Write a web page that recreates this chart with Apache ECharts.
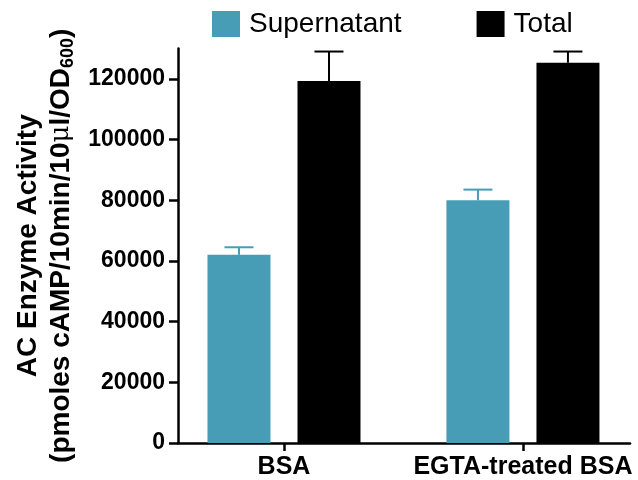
<!DOCTYPE html>
<html>
<head>
<meta charset="utf-8">
<script src="https://cdn.jsdelivr.net/npm/echarts@6/dist/echarts.min.js"></script>
<style>
  html, body { margin: 0; padding: 0; background: #fff; }
  #chart { width: 638px; height: 480px; }
</style>
</head>
<body>
<div id="chart"></div>
<script>
// Adenylate cyclase activity in supernatant vs total fractions
const categories = ['BSA', 'EGTA-treated BSA'];
const seriesNames = ['Supernatant', 'Total'];
const supernatantMean = [62000, 80000];
const supernatantUpper = [64500, 83500];
const totalMean = [119300, 125300];
const totalUpper = [129000, 129000];
const yTicks = [0, 20000, 40000, 60000, 80000, 100000, 120000];
const categoryPositions = [0, 1];

const TEAL = '#479cb6';
const FONT = '"Liberation Sans", Arial, Helvetica, sans-serif';
const BAR_W = 63;
const BAR_GAP = 27;
const CAP_W = 29;

const chart = echarts.init(document.getElementById('chart'), null, { renderer: 'canvas' });

function barData(values) {
  return values.map((v, i) => [categoryPositions[i], v]);
}

function errorData(means, uppers) {
  return means.map((m, i) => [categoryPositions[i], m, uppers[i]]);
}

function errorRenderer(side, color) {
  const shift = side * (BAR_W + BAR_GAP) / 2;
  return function (params, api) {
    const base = api.coord([api.value(0), api.value(1)]);
    const top = api.coord([api.value(0), api.value(2)]);
    const x = base[0] + shift;
    const style = { stroke: color, lineWidth: 2 };
    return {
      type: 'group',
      children: [
        { type: 'line', shape: { x1: x, y1: base[1], x2: x, y2: top[1] }, style: style },
        { type: 'line', shape: { x1: x - CAP_W / 2, y1: top[1], x2: x + CAP_W / 2, y2: top[1] }, style: style }
      ]
    };
  };
}

const option = {
  animation: false,
  backgroundColor: '#fff',
  legend: {
    data: seriesNames,
    left: 207,
    top: 5,
    icon: 'rect',
    itemWidth: 28,
    itemHeight: 26,
    itemGap: 75,
    textStyle: { fontFamily: FONT, fontSize: 28, color: '#000', padding: [7, 0, 0, 4] }
  },
  grid: { left: 178, right: 8, top: 48.5, bottom: 35, containLabel: false },
  xAxis: {
    type: 'value',
    min: -0.4435,
    max: 1.448,
    splitLine: { show: false },
    axisLine: { show: true, onZero: false, lineStyle: { color: '#000', width: 2.5 } },
    axisTick: { show: true, length: 8, customValues: categoryPositions, lineStyle: { color: '#000', width: 2.5 } },
    axisLabel: {
      customValues: categoryPositions,
      formatter: v => categories[Math.round(v)],
      fontFamily: FONT, fontSize: 25, fontWeight: 'bold', color: '#000', margin: 12
    }
  },
  yAxis: {
    type: 'value',
    min: 0,
    max: 130000,
    interval: 20000,
    splitLine: { show: false },
    axisLine: { show: true, onZero: false, lineStyle: { color: '#000', width: 2.5 } },
    axisTick: { show: true, length: 9, customValues: yTicks, lineStyle: { color: '#000', width: 2.5 } },
    axisLabel: {
      customValues: yTicks,
      formatter: v => String(v),
      fontFamily: FONT, fontSize: 23, fontWeight: 'bold', color: '#000', margin: 13
    },
    name: '{a|AC Enzyme Activity}\n{b|(pmoles cAMP/10min/10}{mu|μ}{b|l/OD}{sub|600}{b|)}',
    nameLocation: 'middle',
    nameRotate: 90,
    nameGap: 98,
    nameTextStyle: {
      fontFamily: FONT,
      color: '#000',
      rich: {
        a: { fontFamily: FONT, fontSize: 28, fontWeight: 'bold', color: '#000', lineHeight: 33 },
        b: { fontFamily: FONT, fontSize: 28, fontWeight: 'bold', color: '#000', lineHeight: 33 },
        mu: { fontFamily: '"DejaVu Serif", serif', fontSize: 26, color: '#000', lineHeight: 33 },
        sub: { fontFamily: FONT, fontSize: 18, fontWeight: 'bold', color: '#000', lineHeight: 18, verticalAlign: 'bottom', padding: [9, 0, 0, 0] }
      }
    }
  },
  series: [
    {
      name: seriesNames[0],
      type: 'bar',
      data: barData(supernatantMean),
      barWidth: BAR_W,
      barGap: (BAR_GAP / BAR_W * 100).toFixed(1) + '%',
      itemStyle: { color: TEAL }
    },
    {
      name: seriesNames[1],
      type: 'bar',
      data: barData(totalMean),
      barWidth: BAR_W,
      barGap: (BAR_GAP / BAR_W * 100).toFixed(1) + '%',
      itemStyle: { color: '#000' }
    },
    {
      type: 'custom',
      data: errorData(supernatantMean, supernatantUpper),
      renderItem: errorRenderer(-1, TEAL),
      encode: { x: 0, y: [1, 2] },
      z: 3
    },
    {
      type: 'custom',
      data: errorData(totalMean, totalUpper),
      renderItem: errorRenderer(1, '#000'),
      encode: { x: 0, y: [1, 2] },
      z: 3
    }
  ]
};

chart.setOption(option);
</script>
</body>
</html>
